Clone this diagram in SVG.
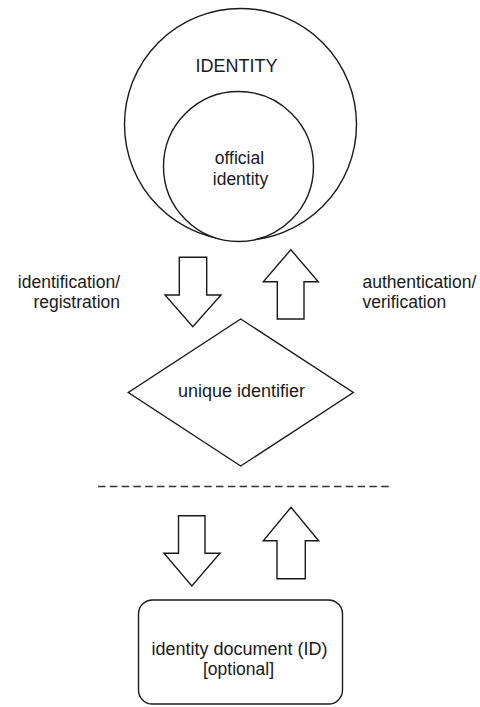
<svg xmlns="http://www.w3.org/2000/svg" width="480" height="707" viewBox="0 0 480 707">
<style>
.s{fill:#fff;stroke:#1a1a1a;stroke-width:1.4;stroke-linejoin:miter}
.t{font-family:"Liberation Sans",Arial,sans-serif;font-size:17.5px;fill:#1a1a1a}
.c{text-anchor:middle}
.r{text-anchor:end}
</style>
<rect width="480" height="707" fill="#fff"/>
<g id="identity">
<circle class="s" cx="240.5" cy="124.5" r="116"/>
<text class="t c" x="236.5" y="72" style="font-size:18px">IDENTITY</text>
</g>
<g id="official-identity">
<circle class="s" cx="238.5" cy="166.5" r="75"/>
<text class="t c" x="239.5" y="164">official</text>
<text class="t c" x="240.5" y="185">identity</text>
</g>
<g id="unique-identifier">
<polygon class="s" points="240.7,319 353.3,392.5 240.7,466 128.3,392.5"/>
<text class="t c" x="241.5" y="397" style="font-size:18px">unique identifier</text>
</g>
<g id="identity-document">
<rect class="s" x="138.5" y="600" width="204" height="104" rx="14" ry="14"/>
<text class="t c" x="239.5" y="655" style="font-size:18px">identity document (ID)</text>
<text class="t c" x="238.5" y="675">[optional]</text>
</g>
<g id="connectors">
<polygon class="s" points="179.3,257.3 206.7,257.3 206.7,295 221,295 192.8,326.7 165,295 179.3,295"/>
<polygon class="s" points="290.8,249.7 318.3,281.7 304,281.7 304,319 277.3,319 277.3,281.7 263.3,281.7"/>
<polygon class="s" points="178.5,515.7 205,515.7 205,553.3 220,553.3 191.8,586 164,553.3 178.5,553.3"/>
<polygon class="s" points="291,507.3 318.7,540.7 305.3,540.7 305.3,578.7 277,578.7 277,540.7 263.3,540.7"/>
<line x1="98" y1="486.5" x2="390" y2="486.5" stroke="#333" stroke-width="1.6" stroke-dasharray="7.5 4.3"/>
<text class="t r" x="120" y="288">identification/</text>
<text class="t r" x="120" y="308">registration</text>
<text class="t" x="362.5" y="288">authentication/</text>
<text class="t" x="362.5" y="308">verification</text>
</g>
</svg>
